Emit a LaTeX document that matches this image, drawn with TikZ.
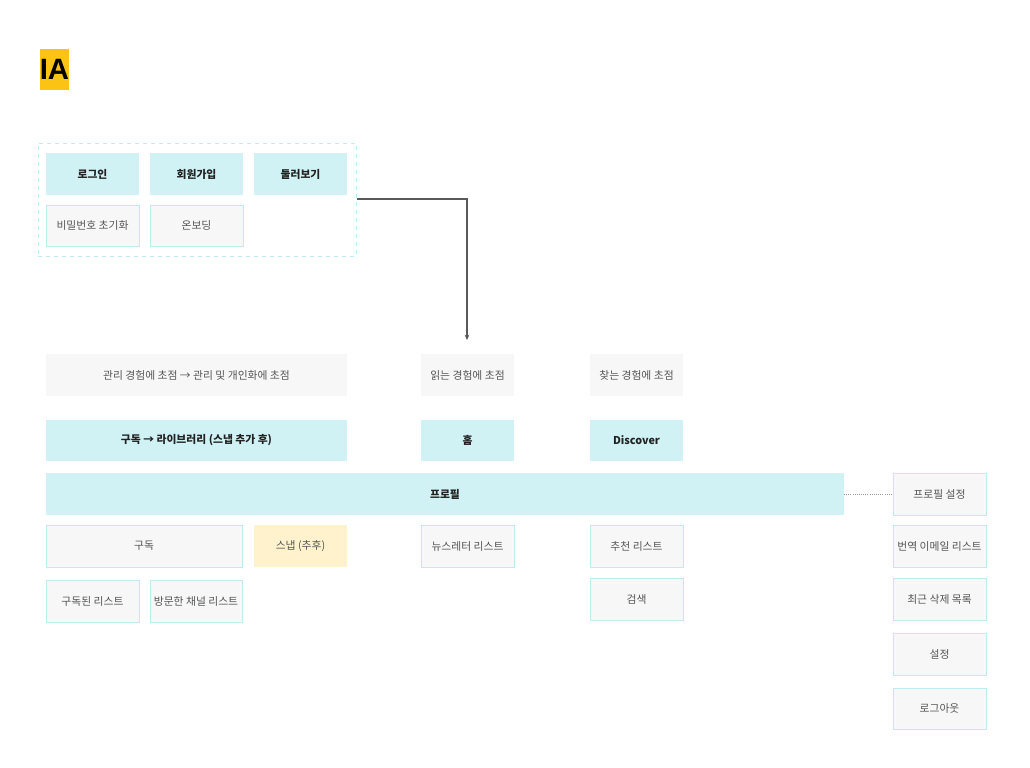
\documentclass[tikz,border=0pt]{standalone}
\usepackage{fontspec}
\setmainfont{Noto Sans CJK KR}
\newfontfamily\iafont{Liberation Sans}
\usetikzlibrary{arrows.meta}
\definecolor{cyanfill}{HTML}{D0F2F4}
\definecolor{cyanline}{HTML}{BDEDF1}
\definecolor{grayfill}{HTML}{F7F7F7}
\definecolor{yelfill}{HTML}{FFF2CC}
\definecolor{iayellow}{HTML}{FBC314}
\definecolor{txtgray}{HTML}{555555}
\definecolor{txtdark}{HTML}{222222}
\newcommand\bx[7]{\node[#2, inner sep=0pt, outer sep=0pt, minimum width={(#5-#3)*0.75pt}, minimum height={(#6-#4)*0.75pt}] (#1) at ({(#3+#5)/2},{(#4+#6)/2}) {#7};}
\tikzset{
  x=0.75pt, y=-0.75pt,
  every node/.style={font=\fontsize{8.1pt}{9.5pt}\selectfont},
  primbox/.style={fill=cyanfill, text=txtdark, font=\fontsize{8.1pt}{9.5pt}\selectfont\bfseries},
  subbox/.style={fill=grayfill, draw=cyanline, line width=0.75pt, text=txtgray},
  notebox/.style={fill=grayfill, text=txtgray},
  laterbox/.style={fill=yelfill, text=txtgray},
}
\begin{document}
\begin{tikzpicture}
\useasboundingbox[fill=white] (0,0) rectangle (1030,767);
% title
\bx{ia}{fill=iayellow, text=black, font=\iafont\fontsize{22pt}{24pt}\selectfont\bfseries}{40}{49}{69}{90}{IA}
% container
\node[draw=cyanline, dashed, line width=0.75pt, inner sep=0pt, minimum width={318*0.75pt}, minimum height={113*0.75pt}] (grp) at (197,199.5) {};
\bx{login}{primbox}{46}{153}{139}{195}{로그인}
\bx{signup}{primbox}{150}{153}{243}{195}{회원가입}
\bx{browse}{primbox}{254}{153}{347}{195}{둘러보기}
\bx{pwreset}{subbox}{46}{205}{139}{246}{비밀번호 초기화}
\bx{onboard}{subbox}{150}{205}{243}{246}{온보딩}
% notes
\bx{note1}{notebox}{46}{354}{347}{396}{관리 경험에 초점 → 관리 및 개인화에 초점}
\bx{note2}{notebox}{421}{354}{514}{396}{읽는 경험에 초점}
\bx{note3}{notebox}{590}{354}{683}{396}{찾는 경험에 초점}
% main tabs
\bx{lib}{primbox}{46}{420}{347}{461}{구독 → 라이브러리 (스냅 추가 후)}
\bx{home}{primbox}{421}{420}{514}{461}{홈}
\bx{disc}{primbox}{590}{420}{683}{461}{Discover}
\bx{profile}{primbox}{46}{473}{844}{515}{프로필}
% children
\bx{sub}{subbox}{46}{525}{242}{567}{구독}
\bx{snap}{laterbox}{254}{525}{347}{567}{스냅 (추후)}
\bx{sublist}{subbox}{46}{580}{139}{622}{구독된 리스트}
\bx{visited}{subbox}{150}{580}{242}{622}{방문한 채널 리스트}
\bx{news}{subbox}{421}{525}{514}{567}{뉴스레터 리스트}
\bx{rec}{subbox}{590}{525}{683}{567}{추천 리스트}
\bx{search}{subbox}{590}{578}{683}{620}{검색}
% profile menu
\bx{pset}{subbox}{893}{473}{986}{515}{프로필 설정}
\bx{trans}{subbox}{893}{525}{986}{567}{번역 이메일 리스트}
\bx{recent}{subbox}{893}{578}{986}{620}{최근 삭제 목록}
\bx{settings}{subbox}{893}{633}{986}{675}{설정}
\bx{logout}{subbox}{893}{688}{986}{729}{로그아웃}
% connectors
\coordinate (tip) at (467,340);
\draw[draw=black!65, line width=0.9pt, -{Stealth[length=4pt,width=3.5pt]}] (grp.east |- 0,199) -| (tip);
\draw[draw=black!40, densely dotted, line width=0.6pt] (profile.east) -- (pset.west);
\end{tikzpicture}
\end{document}
